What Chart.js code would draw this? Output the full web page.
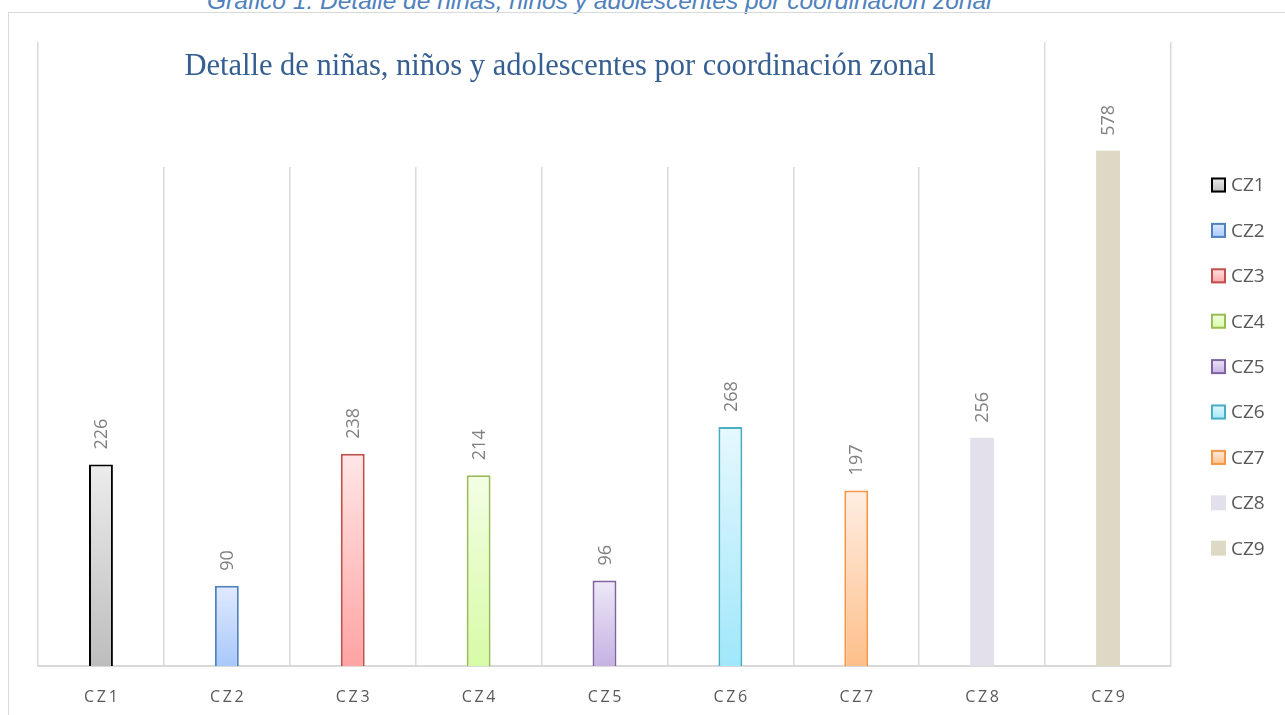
<!DOCTYPE html>
<html lang="es">
<head>
<meta charset="utf-8">
<title>Detalle de niñas, niños y adolescentes por coordinación zonal</title>
<script src="https://cdn.jsdelivr.net/npm/chart.js@4.4.0/dist/chart.umd.min.js"></script>
<style>
  html, body { margin: 0; padding: 0; background: #fff; overflow: hidden; width: 1285px; height: 715px; }
  .leyenda-grafico {
    position: absolute; left: 207px; top: -13px; line-height: 24px;
    font: italic 24.5px "Liberation Sans", Arial, sans-serif; color: #4f81bd; white-space: nowrap;
  }
  .marco {
    position: absolute; left: 8px; top: 12px; width: 1290px; height: 720px;
    border-top: 1px solid #d9d9d9; border-left: 1px solid #d9d9d9;
  }
  .marco canvas { display: block; }
</style>
</head>
<body>
<div class="leyenda-grafico">Gráfico 1: Detalle de niñas, niños y adolescentes por coordinación zonal</div>
<div class="marco"><canvas id="graficoCZ" width="1276" height="702"></canvas></div>
<script>
"use strict";
// datos
const titulo = "Detalle de niñas, niños y adolescentes por coordinación zonal";
const categorias = ["CZ1", "CZ2", "CZ3", "CZ4", "CZ5", "CZ6", "CZ7", "CZ8", "CZ9"];
const valores = [226, 90, 238, 214, 96, 268, 197, 256, 578];

// colores (degradado arriba -> abajo, borde)
const colorArriba = ["#ececec", "#e0eafd", "#ffe6e6", "#f3fee4", "#eee8f7", "#e6f8fe", "#ffeee2", "#e3dfeb", "#ddd9c4"];
const colorAbajo = ["#bdbdbd", "#a8c8fb", "#ffa3a3", "#d7fba7", "#c5b2e3", "#a0e7fb", "#fdbf8a", "#e3dfeb", "#ddd9c4"];
const colorBorde = ["#000000", "#4f81bd", "#c0504d", "#9bbb59", "#8064a2", "#4bacc6", "#f79646", null, null];

function rellenoBarra(context) {
  const i = context.dataIndex;
  const chart = context.chart;
  const y = chart.scales.y;
  if (!y || !chart.chartArea) return colorArriba[i];
  const tope = y.getPixelForValue(valores[i]);
  const base = y.getPixelForValue(0);
  const g = chart.ctx.createLinearGradient(0, tope, 0, base);
  g.addColorStop(0, colorArriba[i]);
  g.addColorStop(1, colorAbajo[i]);
  return g;
}

// titulo dentro del area del grafico, con fondo blanco que tapa la cuadricula
const tituloInterno = {
  id: "tituloInterno",
  beforeDatasetsDraw(chart) {
    const { ctx, chartArea } = chart;
    const anchoCat = chartArea.width / categorias.length;
    ctx.save();
    ctx.fillStyle = "#ffffff";
    ctx.fillRect(chartArea.left + 1, chartArea.top, anchoCat * 8 - 2, 125);
    ctx.font = '30.5px "Liberation Serif", "Times New Roman", serif';
    ctx.fillStyle = "#365f91";
    ctx.textAlign = "center";
    ctx.textBaseline = "alphabetic";
    ctx.fillText(titulo, 551, 62);
    ctx.restore();
  },
};

// etiquetas de valor giradas sobre cada barra
const etiquetasValor = {
  id: "etiquetasValor",
  afterDatasetsDraw(chart) {
    const { ctx } = chart;
    const meta = chart.getDatasetMeta(0);
    ctx.save();
    ctx.font = '18px "Open Sans", sans-serif';
    ctx.fillStyle = "#808080";
    ctx.textAlign = "left";
    ctx.textBaseline = "middle";
    meta.data.forEach((barra, i) => {
      ctx.save();
      ctx.translate(barra.x + 1, barra.y - 15);
      ctx.rotate(-Math.PI / 2);
      ctx.fillText(String(valores[i]), 0, 0);
      ctx.restore();
    });
    ctx.restore();
  },
};

// leyenda a la derecha (una entrada por coordinacion zonal)
const leyendaDerecha = {
  id: "leyendaDerecha",
  afterDraw(chart) {
    const { ctx } = chart;
    const x0 = 1202, y0 = 172, paso = 45.4, lado = 15;
    ctx.save();
    ctx.font = '19px "Open Sans", sans-serif';
    ctx.textAlign = "left";
    ctx.textBaseline = "middle";
    categorias.forEach((c, i) => {
      const yc = y0 + i * paso;
      const g = ctx.createLinearGradient(0, yc - lado / 2, 0, yc + lado / 2);
      g.addColorStop(0, colorArriba[i]);
      g.addColorStop(1, colorAbajo[i]);
      ctx.fillStyle = g;
      ctx.fillRect(x0, yc - lado / 2, lado, lado);
      if (colorBorde[i]) {
        ctx.strokeStyle = colorBorde[i];
        ctx.lineWidth = 2;
        ctx.strokeRect(x0 + 1, yc - lado / 2 + 1, lado - 2, lado - 2);
      }
      ctx.fillStyle = "#595959";
      ctx.fillText(c, x0 + lado + 5, yc + 1);
    });
    ctx.restore();
  },
};

const ctx = document.getElementById("graficoCZ").getContext("2d");

new Chart(ctx, {
  type: "bar",
  data: {
    labels: categorias,
    datasets: [
      {
        label: "Niñas, niños y adolescentes",
        data: valores,
        backgroundColor: rellenoBarra,
        borderColor: colorBorde.map((c) => c || "rgba(0,0,0,0)"),
        borderWidth: colorBorde.map((c) => (c ? 2 : 0)),
        borderSkipped: "bottom",
        categoryPercentage: 1,
        barPercentage: 0.19,
      },
    ],
  },
  options: {
    responsive: false,
    animation: false,
    layout: { padding: { top: 29, left: 29, right: 114, bottom: 6 } },
    plugins: {
      title: { display: false },
      tooltip: { enabled: false },
      legend: { display: false },
    },
    scales: {
      x: {
        grid: { offset: true, color: "#d9d9d9", lineWidth: 1.5, drawTicks: false },
        border: { color: "#d9d9d9", width: 2 },
        afterFit(scale) {
          scale.height = 43;
        },
        ticks: {
          padding: 22,
          color: "#595959",
          font: { family: '"Open Sans", sans-serif', size: 16 },
          callback: function (value, index) {
            return categorias[index].split("").join("\u2009");
          },
        },
      },
      y: {
        display: false,
        min: 0,
        max: 700,
      },
    },
  },
  plugins: [tituloInterno, etiquetasValor, leyendaDerecha],
});
</script>
</body>
</html>
